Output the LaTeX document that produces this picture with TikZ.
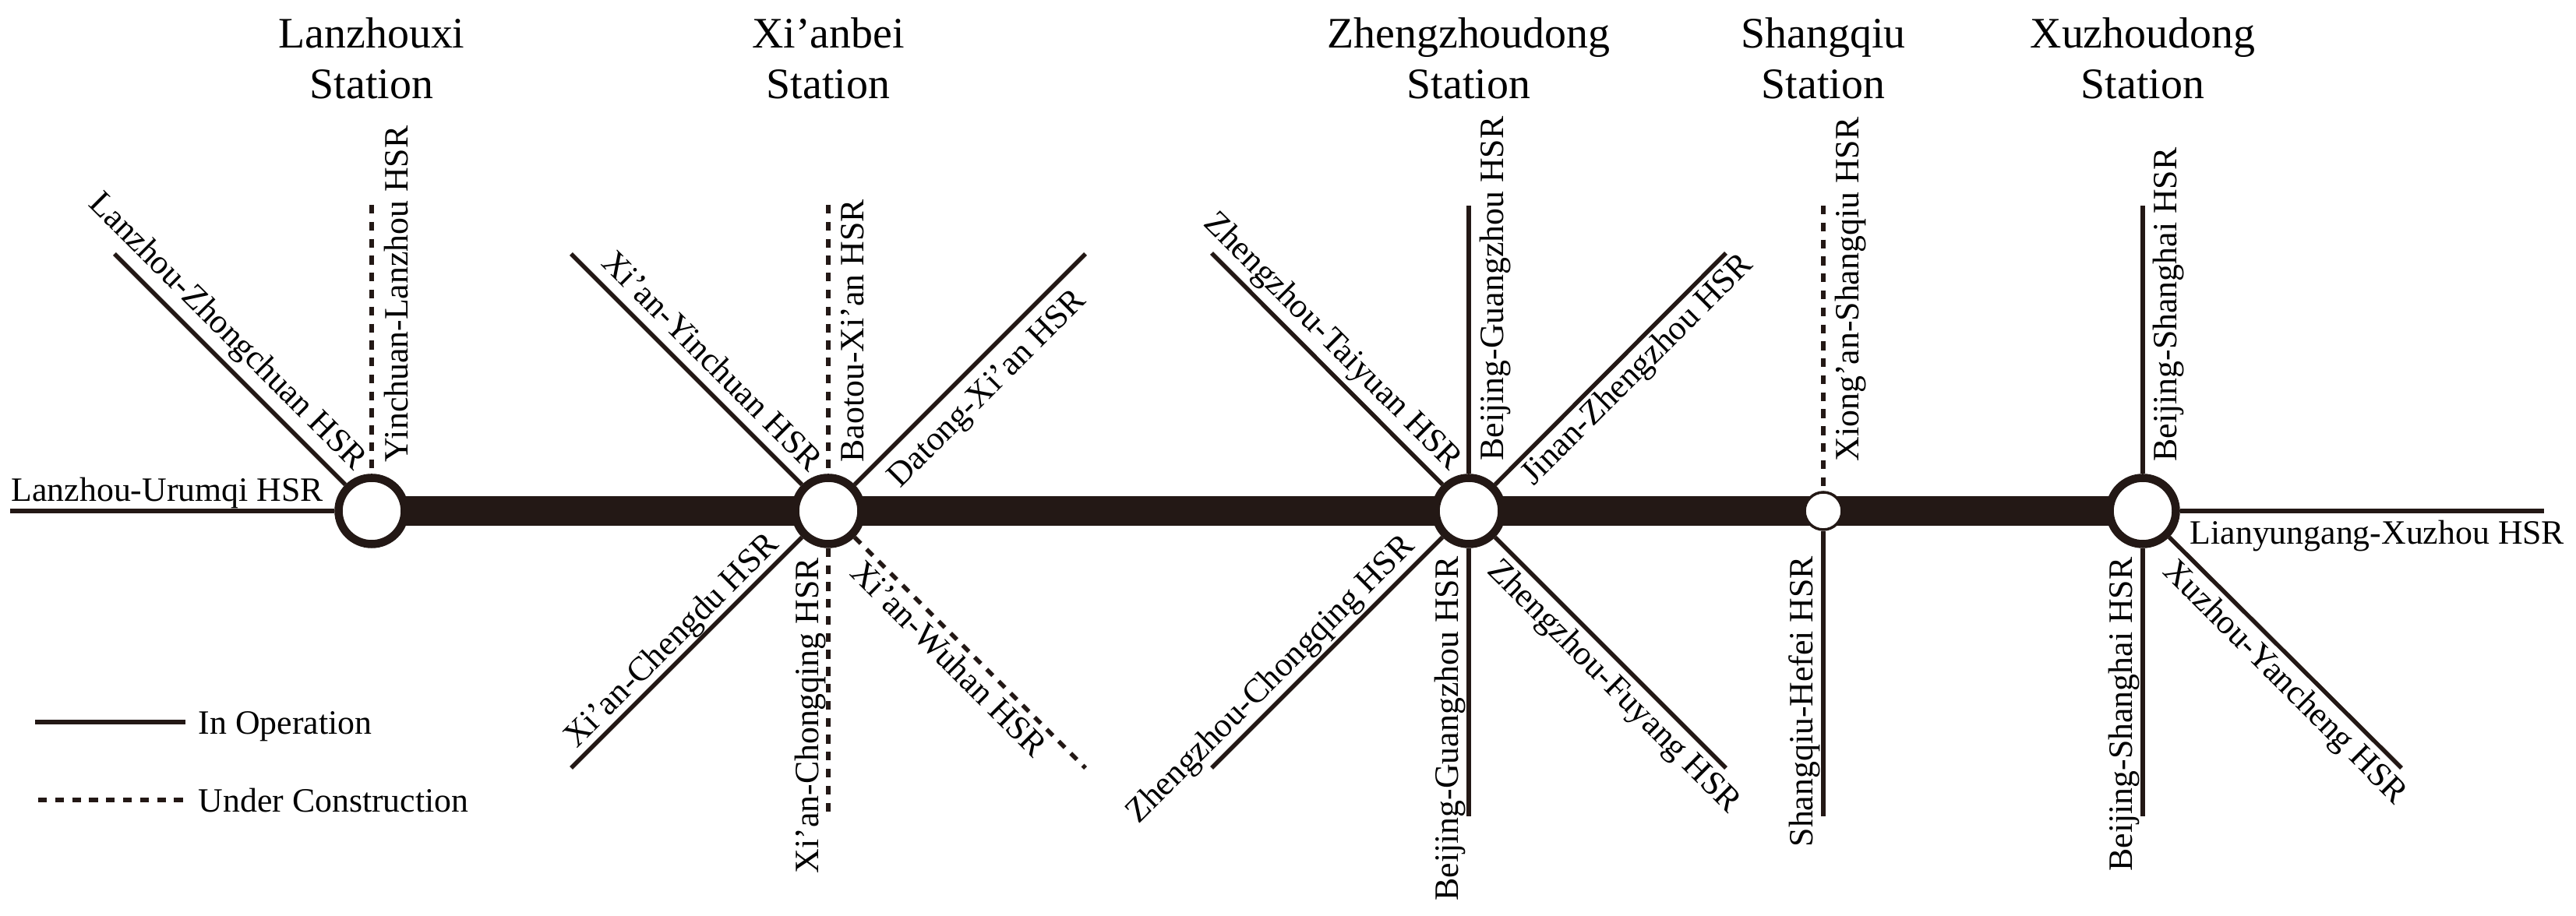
\documentclass[tikz,border=0pt]{standalone}
\usepackage{xcolor}
\usepackage{fontspec}
\setmainfont{Liberation Serif}
\usetikzlibrary{positioning, backgrounds}
\definecolor{Ink}{HTML}{231815}

\begin{document}
\begin{tikzpicture}[
        x=1cm,
        y=1cm,
        font=\fontsize{12.46}{15}\selectfont,
        trunk/.style={line width=3.8mm, draw=Ink},
        oper/.style={line width=1.55pt, draw=Ink},
        constr/.style={line width=1.55pt, draw=Ink, dash pattern=on 3.2pt off 3pt},
        bigstation/.style={circle, draw=Ink, fill=white, line width=3pt, minimum size=8.5mm, inner sep=0pt},
        smallstation/.style={circle, draw=Ink, fill=white, line width=1pt, minimum size=4.8mm, inner sep=0pt},
        title/.style={align=center, text=black, inner sep=0pt, font=\fontsize{15.9}{18.4}\selectfont},
        lbl/.style={anchor=base west, inner sep=0pt, text=black}
      ]
        \useasboundingbox (0,0) rectangle (33.06,11.76);

        \node[bigstation] (lanzhou) at (4.77,5.20) {};
        \node[bigstation] (xian) at (10.63,5.20) {};
        \node[bigstation] (zheng) at (18.85,5.20) {};
        \node[smallstation] (shangqiu) at (23.40,5.20) {};
        \node[bigstation] (xuzhou) at (27.50,5.20) {};

        \node[title] (tLanzhou) at (4.77,11.01) {Lanzhouxi\\Station};
        \node[title] (tXian) at (10.63,11.01) {Xi’anbei\\Station};
        \node[title] (tZheng) at (18.85,11.01) {Zhengzhoudong\\Station};
        \node[title] (tShangqiu) at (23.40,11.01) {Shangqiu\\Station};
        \node[title] (tXuzhou) at (27.50,11.01) {Xuzhoudong\\Station};

        \begin{scope}[on background layer]
          \draw[trunk] (lanzhou.center) -- (xian.center);
          \draw[trunk] (xian.center) -- (zheng.center);
          \draw[trunk] (zheng.center) -- (shangqiu.center);
          \draw[trunk] (shangqiu.center) -- (xuzhou.center);
        \end{scope}

        % free ends of the lines
        \coordinate (eUrumqi) at (0.13,5.20);
        \coordinate (eZhongchuan) at (1.47,8.50);
        \coordinate (eYinLan) at (4.77,9.13);
        \coordinate (eXiYin) at (7.33,8.50);
        \coordinate (eBaotou) at (10.63,9.13);
        \coordinate (eDatong) at (13.93,8.50);
        \coordinate (eChengdu) at (7.33,1.90);
        \coordinate (eXiChong) at (10.63,1.30);
        \coordinate (eWuhan) at (13.93,1.90);
        \coordinate (eTaiyuan) at (15.55,8.51);
        \coordinate (eBgUp) at (18.85,9.12);
        \coordinate (eJinan) at (22.15,8.51);
        \coordinate (eZhChong) at (15.55,1.90);
        \coordinate (eBgDown) at (18.85,1.28);
        \coordinate (eFuyang) at (22.15,1.90);
        \coordinate (eXiong) at (23.40,9.12);
        \coordinate (eHefei) at (23.40,1.28);
        \coordinate (eBsUp) at (27.50,9.12);
        \coordinate (eBsDown) at (27.50,1.28);
        \coordinate (eLianyun) at (32.65,5.20);
        \coordinate (eYancheng) at (30.82,1.90);

        \draw[oper] (lanzhou) -- (eUrumqi);
        \draw[oper] (lanzhou) -- (eZhongchuan);
        \draw[constr] (eYinLan) -- (lanzhou);
        \draw[oper] (xian) -- (eXiYin);
        \draw[constr] (eBaotou) -- (xian);
        \draw[oper] (xian) -- (eDatong);
        \draw[oper] (xian) -- (eChengdu);
        \draw[constr] (xian) -- (eXiChong);
        \draw[constr] (xian) -- (eWuhan);
        \draw[oper] (zheng) -- (eTaiyuan);
        \draw[oper] (zheng) -- (eBgUp);
        \draw[oper] (zheng) -- (eJinan);
        \draw[oper] (zheng) -- (eZhChong);
        \draw[oper] (zheng) -- (eBgDown);
        \draw[oper] (zheng) -- (eFuyang);
        \draw[constr] (eXiong) -- (shangqiu);
        \draw[oper] (shangqiu) -- (eHefei);
        \draw[oper] (xuzhou) -- (eBsUp);
        \draw[oper] (xuzhou) -- (eBsDown);
        \draw[oper] (xuzhou) -- (eLianyun);
        \draw[oper] (xuzhou) -- (eYancheng);

        \node[lbl] (lUrumqi) at (0.14,5.32) {Lanzhou-Urumqi HSR};
        \node[lbl, rotate=-45] (lZhongchuan) at (1.12,9.13) {Lanzhou-Zhongchuan HSR};
        \node[lbl, rotate=90] (lYinLan) at (5.23,5.82) {Yinchuan-Lanzhou HSR};
        \node[lbl, rotate=-45] (lXiYin) at (7.70,8.37) {Xi’an-Yinchuan HSR};
        \node[lbl, rotate=90] (lBaotou) at (11.08,5.82) {Baotou-Xi’an HSR};
        \node[lbl, rotate=45] (lDatong) at (11.55,5.48) {Datong-Xi’an HSR};
        \node[lbl, rotate=45] (lChengdu) at (7.40,2.14) {Xi’an-Chengdu HSR};
        \node[lbl, rotate=90] (lXiChong) at (10.50,0.54) {Xi’an-Chongqing HSR};
        \node[lbl, rotate=-45] (lWuhan) at (10.89,4.39) {Xi’an-Wuhan HSR};
        \node[lbl, rotate=-45] (lTaiyuan) at (15.43,8.88) {Zhengzhou-Taiyuan HSR};
        \node[lbl, rotate=90] (lBgUp) at (19.29,5.84) {Beijing-Guangzhou HSR};
        \node[lbl, rotate=45] (lJinan) at (19.68,5.51) {Jinan-Zhengzhou HSR};
        \node[lbl, rotate=45] (lZhChong) at (14.61,1.17) {Zhengzhou-Chongqing HSR};
        \node[lbl, rotate=90] (lBgDown) at (18.71,0.19) {Beijing-Guangzhou HSR};
        \node[lbl, rotate=-45] (lFuyang) at (19.07,4.42) {Zhengzhou-Fuyang HSR};
        \node[lbl, rotate=90] (lXiong) at (23.85,5.83) {Xiong’an-Shangqiu HSR};
        \node[lbl, rotate=90] (lHefei) at (23.26,0.88) {Shangqiu-Hefei HSR};
        \node[lbl, rotate=90] (lBsUp) at (27.93,5.83) {Beijing-Shanghai HSR};
        \node[lbl, rotate=90] (lBsDown) at (27.36,0.57) {Beijing-Shanghai HSR};
        \node[lbl] (lLianyun) at (28.10,4.77) {Lianyungang-Xuzhou HSR};
        \node[lbl, rotate=-45] (lYancheng) at (27.74,4.41) {Xuzhou-Yancheng HSR};

        % legend
        \coordinate (keyA) at (0.45,2.49);
        \coordinate (keyB) at (2.38,2.49);
        \coordinate (keyC) at (0.49,1.49);
        \coordinate (keyD) at (2.38,1.49);
        \draw[oper] (keyA) -- (keyB);
        \draw[constr] (keyC) -- (keyD);
        \node[lbl] (lOper) at (2.54,2.33) {In Operation};
        \node[lbl] (lConstr) at (2.54,1.33) {Under Construction};
      \end{tikzpicture}
\end{document}
